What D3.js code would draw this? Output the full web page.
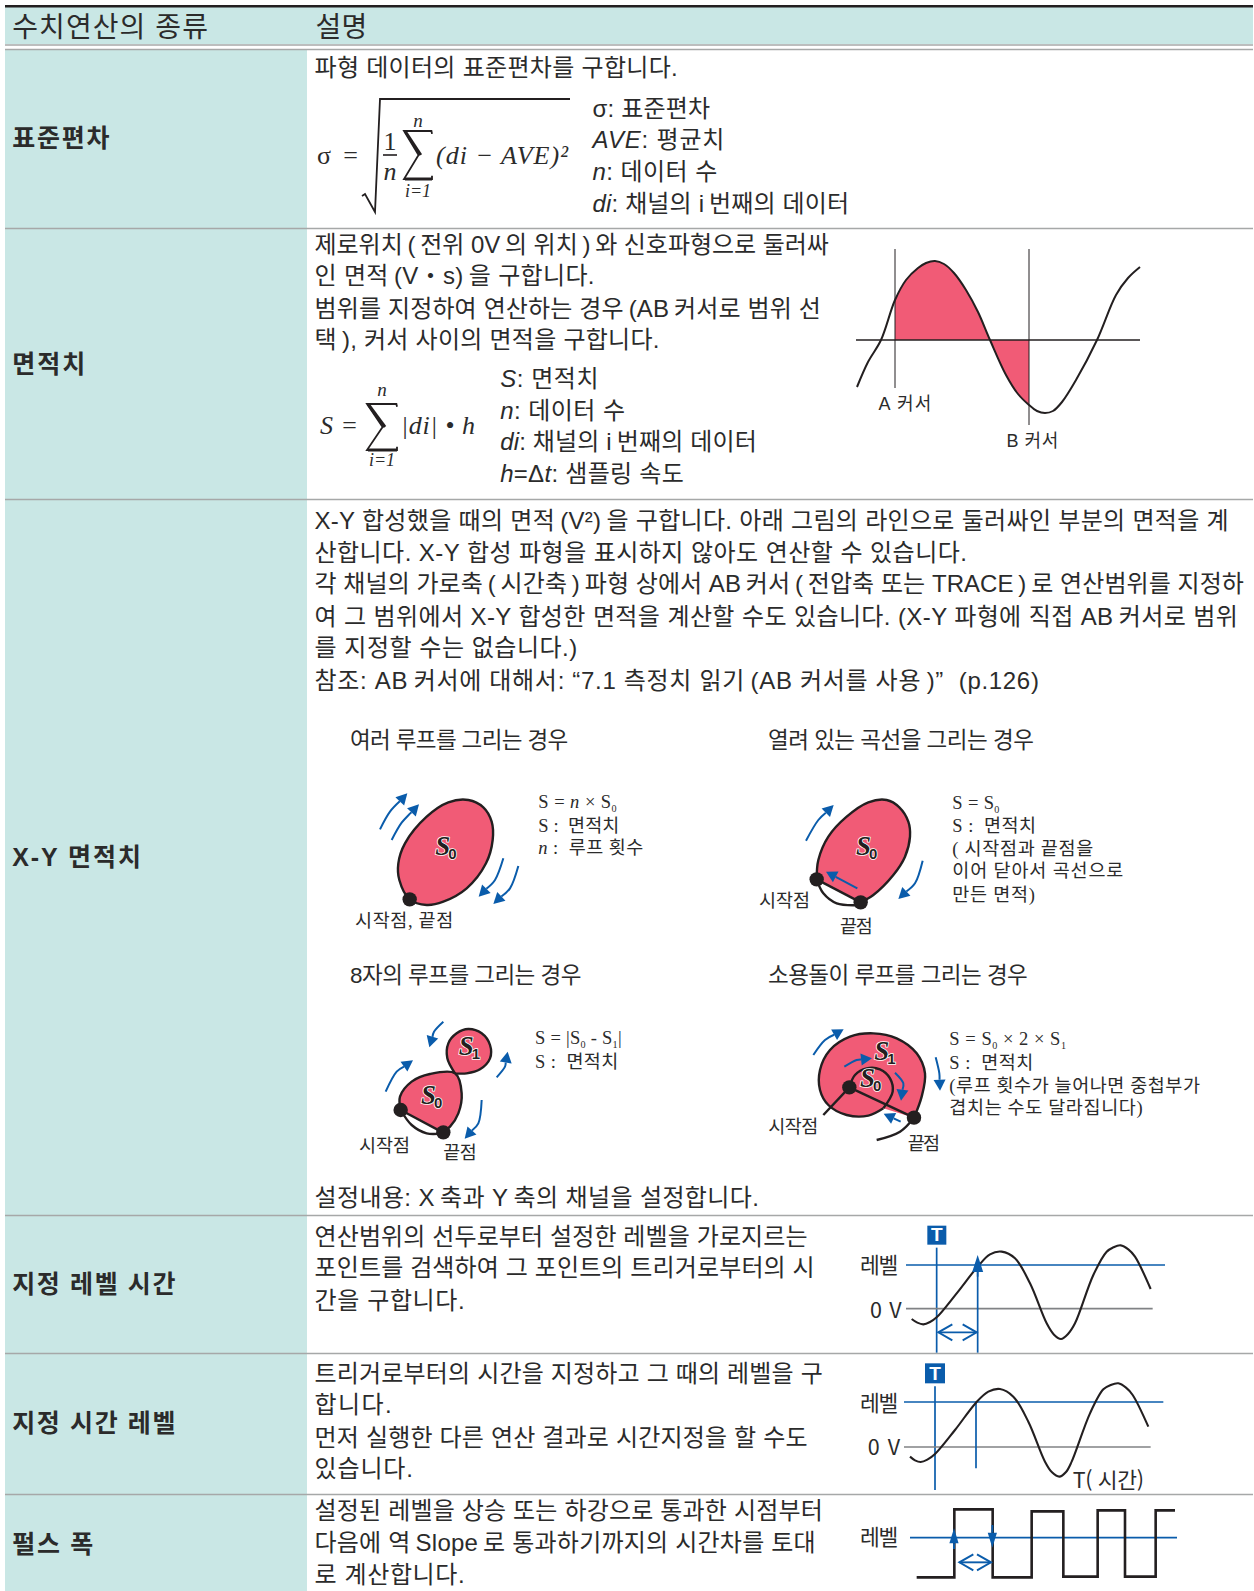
<!DOCTYPE html>
<html lang="ko">
<head>
<meta charset="utf-8">
<title>수치연산의 종류</title>
<script src="https://cdn.jsdelivr.net/npm/d3@7"></script>
<style>
  html, body { margin: 0; padding: 0; background: #fff; }
  svg { display: block; }
  text { fill: #2b2b2b; font-family: "Liberation Sans", "Noto Sans CJK KR", sans-serif; white-space: pre; }
</style>
</head>
<body>
<div id="chart"></div>
<script>
// Table text. *x* is italic, _x_ is a subscript
const headerLabels = ["수치연산의 종류", "설명"];
const rowLabels = ["표준편차", "면적치", "X-Y 면적치", "지정 레벨 시간", "지정 시간 레벨", "펄스 폭"];
const stdDevIntro = ["파형 데이터의 표준편차를 구합니다."];
const stdDevLegend = ["σ: 표준편차", "*AVE*: 평균치", "*n*: 데이터 수", "*di*: 채널의 i\u2009번째의 데이터"];
const areaLines = [
  "제로위치\u2009(\u2009전위 0V\u2009의 위치\u2009)\u2009와 신호파형으로 둘러싸",
  "인 면적\u2009(V・s)\u2009을 구합니다.",
  "범위를 지정하여 연산하는 경우\u2009(AB\u2009커서로 범위 선",
  "택\u2009), 커서 사이의 면적을 구합니다."
];
const areaLegend = ["*S*: 면적치", "*n*: 데이터 수", "*di*: 채널의 i\u2009번째의 데이터", "*h*=Δ*t*: 샘플링 속도"];
const xyLines = [
  "X-Y 합성했을 때의 면적\u2009(V²)\u2009을 구합니다. 아래 그림의 라인으로 둘러싸인 부분의 면적을 계",
  "산합니다. X-Y 합성 파형을 표시하지 않아도 연산할 수 있습니다.",
  "각 채널의 가로축\u2009(\u2009시간축\u2009)\u2009파형 상에서 AB\u2009커서\u2009(\u2009전압축 또는 TRACE\u2009)\u2009로 연산범위를 지정하",
  "여 그 범위에서 X-Y 합성한 면적을 계산할 수도 있습니다. (X-Y 파형에 직접 AB\u2009커서로 범위",
  "를 지정할 수는 없습니다.)",
  "참조: AB\u2009커서에 대해서: “7.1 측정치 읽기\u2009(AB 커서를 사용\u2009)”  (p.126)"
];
const xyCaseTitles = ["여러 루프를 그리는 경우", "열려 있는 곡선을 그리는 경우", "8자의 루프를 그리는 경우", "소용돌이 루프를 그리는 경우"];
const xyFooter = ["설정내용: X\u2009축과 Y\u2009축의 채널을 설정합니다."];
const levelTimeLines = ["연산범위의 선두로부터 설정한 레벨을 가로지르는", "포인트를 검색하여 그 포인트의 트리거로부터의 시", "간을 구합니다."];
const timeLevelLines = ["트리거로부터의 시간을 지정하고 그 때의 레벨을 구", "합니다.", "먼저 실행한 다른 연산 결과로 시간지정을 할 수도", "있습니다."];
const pulseLines = ["설정된 레벨을 상승 또는 하강으로 통과한 시점부터", "다음에 역\u2009Slope\u2009로 통과하기까지의 시간차를 토대", "로 계산합니다."];

// Area waveform: time, volts
const areaWave = [[1,-47],[12,-22],[25,0],[39,40],[50,60],[62,72],[70,77],[79,79],[88,76],[98,67],[110,50],[122,28],[134,0],[150,-35],[162,-54],[173,-65],[181,-71],[189,-73],[197,-71],[206,-62],[220,-40],[241,0],[260,45],[272,62],[284,73]];
const areaCursors = [39, 173];

// Trigger waveforms: readings on each diagram's own grid
const levelTimeWave = [[245,327],[262,338],[280,343],[300,336],[320,322],[380,250],[443,170],[480,133],[515,125],[555,145],[600,220],[650,340],[672,374],[693,387],[714,372],[735,340],[790,195],[830,125],[850,112],[872,106],[895,118],[915,140],[962,237]];
const timeLevelWave = [[240,320],[255,331],[272,336],[292,329],[315,312],[375,240],[438,158],[475,125],[510,117],[550,140],[595,215],[645,335],[666,367],[688,380],[708,366],[725,335],[780,190],[820,118],[842,105],[865,100],[888,113],[908,135],[955,230]];
const pulseWave = [[260,682],[373,682],[373,478],[488,478],[488,682],[605,682],[605,484],[700,484],[700,680],[803,680],[803,481],[885,481],[885,680],[977,680],[977,481],[1035,481]];

// X-Y loops
const singleLoop = [[209,538],[178,480],[175,430],[195,370],[260,290],[325,247],[385,240],[430,262],[455,305],[458,360],[438,430],[380,505],[310,545],[260,555]];
const singleArrows = [[[120,328],[150,275],[202,220]], [[155,360],[185,308],[237,253]], [[490,415],[465,480],[416,530]], [[535,438],[510,505],[460,552]]];
const singleDots = [[209,538]];

const openLoop = [[230,478],[235,420],[265,350],[320,290],[385,247],[440,240],[478,262],[505,305],[510,350],[495,410],[460,465],[400,525],[362,547],[230,478]];
const openReturn = [[230,478],[250,520],[290,550],[362,555]];
const openArrows = [[[198,362],[235,300],[281,255]], [[548,422],[525,490],[475,537]], [[352,505],[258,455]]];
const openDots = [[230,478],[362,547]];

const eightLower = [[182,480],[180,440],[215,395],[270,372],[345,370],[365,430],[355,490],[330,530],[308,547],[182,480]];
const eightUpper = [[345,370],[322,325],[325,280],[350,250],[385,237],[425,250],[450,285],[450,325],[420,358],[380,370],[345,370]];
const eightReturn = [[182,480],[215,525],[260,550],[308,550]];
const eightArrows = [[[310,215],[282,245],[268,292]], [[137,425],[170,365],[219,331]], [[470,382],[495,350],[503,305]], [[425,450],[415,520],[374,566]]];
const eightDots = [[182,480],[310,547]];

const spiralOuter = [[522,503],[545,440],[555,370],[530,310],[470,265],[400,250],[330,260],[270,300],[240,360],[240,420],[265,465],[320,495],[385,497],[430,475]];
const spiralInner = [[430,475],[458,425],[450,385],[420,358],[380,355],[345,375],[328,412]];
const spiralChords = [[[328,412],[522,503]], [[328,412],[250,495]]];
const spiralTail = [[522,503],[480,545],[410,570]];
const spiralArrows = [[[220,315],[255,270],[311,238]], [[313,350],[350,330],[396,325]], [[465,368],[490,400],[483,452]], [[587,322],[598,370],[600,422]], [[482,515],[431,491]]];
const spiralDots = [[328,412],[522,503]];

const colors = { band: "#c9e7e5", rule: "#a6a8a8", ink: "#231f20", blue: "#0a5cab", pink: "#f15b76", gray: "#808285" };

const width = 1254, height = 1591;
const k = width / 1236; // text layout below was read on the 1236 wide picture
const svg = d3.select("#chart").append("svg").attr("width", width).attr("height", height);

// ---- table frame ----
const rowEdges = [49, 228, 499, 1215, 1353, 1494, height];
const colX = [5, 307, 1253];

svg.append("rect").attr("x", colX[0]).attr("y", 7).attr("width", colX[2] - colX[0]).attr("height", 37).attr("fill", colors.band);
svg.append("rect").attr("x", colX[0]).attr("y", 49).attr("width", colX[1] - colX[0]).attr("height", height - 49).attr("fill", colors.band);
svg.selectAll(".row-rule")
  .data([44.5].concat(rowEdges.slice(0, -1)))
  .enter().append("line")
  .attr("class", "row-rule")
  .attr("x1", colX[0]).attr("x2", colX[2])
  .attr("y1", d => d + 0.5).attr("y2", d => d + 0.5)
  .attr("stroke", colors.rule).attr("stroke-width", 1.6);
svg.append("line").attr("x1", colX[0]).attr("x2", colX[2]).attr("y1", 6.2).attr("y2", 6.2).attr("stroke", colors.ink).attr("stroke-width", 2.6);

// ---- text ----
function addText(parent, str, x, cy, end, size, opts) {
  opts = opts || {};
  const t = parent.append("text")
    .attr("x", x * k)
    .attr("y", cy * k)
    .attr("dy", "0.38em")
    .attr("font-size", size)
    .attr("font-weight", opts.weight || 400);
  if (opts.family) t.style("font-family", opts.family);
  if (end) t.attr("textLength", (end - x) * k);
  str.split(/(\*[^*]+\*|_[^_]+_)/).filter(s => s).forEach(part => {
    const span = t.append("tspan");
    if (part[0] === "*") {
      span.text(part.slice(1, -1)).attr("font-style", "italic");
    } else if (part[0] === "_") {
      span.text(part.slice(1, -1)).attr("font-size", size * 0.55).attr("baseline-shift", "-4");
    } else {
      span.text(part);
    }
  });
  return t;
}

const textLayer = svg.append("g");
const bodySize = 24;
const textBlocks = [
  { lines: headerLabels, xs: [12, 311], ends: [205, 362], ys: [26, 26], size: 28 },
  { lines: rowLabels, xs: [12, 12, 12, 12, 12, 12], ends: [108, 84, 139, 173, 173, 92], ys: [136, 358, 844, 1265, 1402, 1521], size: 25, weight: 700 },
  { lines: stdDevIntro, xs: [310], ends: [668], ys: [66], size: bodySize },
  { lines: stdDevLegend, xs: [584, 584, 584, 584], ends: [700, 714, 707, 837], ys: [106, 137, 168, 200], size: bodySize },
  { lines: areaLines, xs: [310, 310, 310, 310], ends: [817, 586, 809, 650], ys: [240, 271, 303, 334], size: bodySize },
  { lines: areaLegend, xs: [493, 493, 493, 493], ends: [590, 616, 746, 674], ys: [372, 404, 435, 466], size: bodySize },
  { lines: xyLines, xs: [310, 310, 310, 310, 310, 310], ends: [1211, 953, 1226, 1220, 569, 1024], ys: [512, 544, 575, 607, 638, 670], size: bodySize },
  { lines: xyCaseTitles, xs: [345, 757, 345, 757], ends: [560, 1019, 573, 1013], ys: [729, 729, 960, 960], size: 22.5 },
  { lines: xyFooter, xs: [310], ends: [748], ys: [1180], size: bodySize },
  { lines: levelTimeLines, xs: [310, 310, 310], ends: [796, 803, 458], ys: [1218, 1249, 1281], size: bodySize },
  { lines: timeLevelLines, xs: [310, 310, 310, 310], ends: [811, 386, 796, 407], ys: [1353, 1384, 1416, 1447], size: bodySize },
  { lines: pulseLines, xs: [310, 310, 310], ends: [811, 804, 458], ys: [1488, 1520, 1551], size: bodySize }
];
textBlocks.forEach(b => b.lines.forEach((s, i) =>
  addText(textLayer, s, b.xs[i], b.ys[i], b.ends[i], b.size, { weight: b.weight })));

// ---- formulas ----
const mathFont = '"Liberation Serif", "DejaVu Serif", serif';
function mathText(str, x, y, size, anchor, len) {
  const t = svg.append("text")
    .attr("x", x).attr("y", y)
    .attr("font-size", size)
    .attr("font-style", "italic")
    .attr("text-anchor", anchor || "start")
    .style("font-family", mathFont)
    .text(str);
  if (len) t.attr("textLength", len);
  return t;
}
function sumSign(x, top, w, h) {
  // big sigma drawn from its box
  svg.append("path")
    .attr("d", d3.line()([[x + w, top + h * 0.06], [x + w * 0.98, top], [x, top], [x + w * 0.52, top + h * 0.5], [x, top + h], [x + w, top + h], [x + w, top + h * 0.93]]))
    .attr("fill", "none").attr("stroke", colors.ink).attr("stroke-width", 1.8);
  svg.append("line").attr("x1", x + 1).attr("x2", x + w * 0.6).attr("y1", top).attr("y2", top + h * 0.5).attr("stroke", colors.ink).attr("stroke-width", 3);
  svg.append("line").attr("x1", x + 1).attr("x2", x + w).attr("y1", top + h).attr("y2", top + h).attr("stroke", colors.ink).attr("stroke-width", 3);
}

mathText("σ =", 317, 164, 26, "start", 41).attr("font-style", "normal");
svg.append("path")
  .attr("d", d3.line()([[362, 196], [365, 194], [375, 212], [380, 99], [570, 99]]))
  .attr("fill", "none").attr("stroke", colors.ink).attr("stroke-width", 1.8);
mathText("1", 390, 150, 26, "middle").attr("font-style", "normal");
svg.append("line").attr("x1", 383).attr("x2", 397).attr("y1", 155).attr("y2", 155).attr("stroke", colors.ink).attr("stroke-width", 1.6);
mathText("n", 390, 180, 26, "middle");
sumSign(404, 131, 28, 48);
mathText("n", 418, 127, 19, "middle");
mathText("i=1", 418, 197, 18, "middle");
mathText("(di − AVE)²", 436, 164, 26, "start", 132);

mathText("S =", 320, 434, 26, "start", 38);
sumSign(367, 404, 30, 46);
mathText("n", 382, 396, 19, "middle");
mathText("i=1", 382, 466, 18, "middle");
mathText("|di| • h", 401, 434, 26, "start", 74);

// ---- area diagram ----
const areaX = d3.scaleLinear().domain([0, 284]).range([856, 1140]);
const areaY = d3.scaleLinear().domain([0, 79]).range([340, 261]);
const waveCurve = d3.curveCatmullRom.alpha(0.5);

svg.append("clipPath").attr("id", "cursor-span").append("rect")
  .attr("x", areaX(areaCursors[0])).attr("width", areaX(areaCursors[1]) - areaX(areaCursors[0]))
  .attr("y", 0).attr("height", height);
svg.append("path").datum(areaWave)
  .attr("clip-path", "url(#cursor-span)")
  .attr("fill", colors.pink)
  .attr("d", d3.area().x(d => areaX(d[0])).y0(areaY(0)).y1(d => areaY(d[1])).curve(waveCurve));
svg.append("line").attr("x1", areaX(0)).attr("x2", areaX(284)).attr("y1", areaY(0)).attr("y2", areaY(0)).attr("stroke", colors.ink).attr("stroke-width", 1.3);
svg.selectAll(".cursor")
  .data(areaCursors)
  .enter().append("line")
  .attr("class", "cursor")
  .attr("x1", d => areaX(d)).attr("x2", d => areaX(d))
  .attr("y1", 249).attr("y2", (d, i) => [388, 425][i])
  .attr("stroke", colors.ink).attr("stroke-width", 1);
svg.append("path").datum(areaWave)
  .attr("fill", "none").attr("stroke", colors.ink).attr("stroke-width", 2)
  .attr("d", d3.line().x(d => areaX(d[0])).y(d => areaY(d[1])).curve(waveCurve));
addText(svg, "A 커서", 866, 397, 918, 18);
addText(svg, "B 커서", 992, 434, 1043, 18);

// ---- shared pieces for the small diagrams ----
function makePanel(xRange, yRange, wide, tall) {
  const x = d3.scaleLinear().domain([0, wide]).range(xRange);
  const y = d3.scaleLinear().domain([0, tall]).range(yRange);
  const g = svg.append("g");
  return {
    x, y, g,
    line: d3.line().x(d => x(d[0])).y(d => y(d[1]))
  };
}
function drawArrows(p, arrows, headLen, headHalf, strokeW) {
  arrows.forEach(a => {
    const tip = a[a.length - 1];
    const prev = a[a.length - 2];
    const tx = p.x(tip[0]), ty = p.y(tip[1]);
    const dx = tx - p.x(prev[0]), dy = ty - p.y(prev[1]);
    const len = Math.hypot(dx, dy);
    const ux = dx / len, uy = dy / len;
    const bx = tx - ux * headLen, by = ty - uy * headLen;
    const shaft = a.slice(0, -1).map(d => [p.x(d[0]), p.y(d[1])]).concat([[bx, by]]);
    p.g.append("path")
      .attr("d", d3.line().curve(d3.curveCatmullRom)(shaft))
      .attr("fill", "none").attr("stroke", colors.blue).attr("stroke-width", strokeW || 2);
    p.g.append("path")
      .attr("d", d3.line()([[tx, ty], [bx - uy * headHalf, by + ux * headHalf], [bx + uy * headHalf, by - ux * headHalf]]) + "Z")
      .attr("fill", colors.blue);
  });
}
function drawDots(p, dots) {
  p.g.selectAll(".dot")
    .data(dots)
    .enter().append("circle")
    .attr("class", "dot")
    .attr("cx", d => p.x(d[0])).attr("cy", d => p.y(d[1]))
    .attr("r", 7.2).attr("fill", colors.ink);
}
function drawOutline(p, pts, curve, w) {
  p.g.append("path")
    .attr("d", p.line.curve(curve || d3.curveCatmullRom)(pts))
    .attr("fill", "none").attr("stroke", colors.ink).attr("stroke-width", w || 2.4);
}
function drawFill(p, segs) {
  // segs are curve pieces, joined into one closed shape
  const d = segs.map(s => p.line.curve(s.curve)(s.pts)).map((str, i) => i ? str.replace(/^M/, "L") : str).join("") + "Z";
  p.g.append("path").attr("d", d).attr("fill", colors.pink);
}
function loopLabel(p, name, sub, px, py) {
  const t = p.g.append("text")
    .attr("x", p.x(px)).attr("y", p.y(py))
    .attr("paint-order", "stroke")
    .attr("stroke", "#fff").attr("stroke-width", 1.6)
    .style("fill", colors.ink);
  t.append("tspan").text(name)
    .attr("font-size", 27).attr("font-weight", 700).attr("font-style", "italic")
    .style("font-family", mathFont);
  t.append("tspan").text(sub)
    .attr("font-size", 15).attr("font-weight", 700).attr("dy", 4).attr("dx", -2);
}
function panelText(p, str, px, py, size, end) {
  const t = addText(p.g, str, p.x(px) / k, p.y(py) / k, end ? p.x(end) / k : null, size || 18, { family: mathFont + ', "Noto Sans CJK KR"' });
  return t;
}

// ---- X-Y case 1: several loops ----
const case1 = makePanel([340, 780], [720, 950], 1320, 690);
case1.g.append("path").attr("d", case1.line.curve(d3.curveCatmullRomClosed.alpha(0.5))(singleLoop)).attr("fill", colors.pink).attr("stroke", colors.ink).attr("stroke-width", 2.4);
drawDots(case1, singleDots);
drawArrows(case1, singleArrows, 11, 6);
loopLabel(case1, "S", "0", 286, 404);
panelText(case1, "S = *n* × S_0_", 595, 242, 18.5, 830);
panelText(case1, "S :  면적치", 595, 314, 18.5, 838);
panelText(case1, "*n* :  루프 횟수", 595, 382, 18.5, 910);
panelText(case1, "시작점, 끝점", 45, 600, 18.5, 340);

// ---- X-Y case 2: open curve ----
const case2 = makePanel([740, 1180], [720, 950], 1320, 690);
drawFill(case2, [{ pts: openLoop.slice(0, -1), curve: d3.curveCatmullRom }]);
drawOutline(case2, openLoop.slice(0, -1));
drawOutline(case2, openLoop.slice(-2), d3.curveLinear);
drawOutline(case2, openReturn);
drawDots(case2, openDots);
drawArrows(case2, openArrows, 11, 6);
loopLabel(case2, "S", "0", 348, 404);
panelText(case2, "S = S_0_", 637, 245, 18.5, 778);
panelText(case2, "S :  면적치", 637, 314, 18.5, 888);
panelText(case2, "( 시작점과 끝점을", 637, 384, 18.5, 1060);
panelText(case2, "이어 닫아서 곡선으로", 637, 450, 18.5, 1150);
panelText(case2, "만든 면적)", 637, 522, 18.5, 885);
panelText(case2, "시작점", 57, 540, 18.5, 210);
panelText(case2, "끝점", 300, 618, 18.5, 398);

// ---- X-Y case 3: figure eight ----
const case3 = makePanel([340, 780], [950, 1170], 1320, 660);
drawFill(case3, [{ pts: eightLower.slice(0, -1), curve: d3.curveCatmullRom }]);
drawFill(case3, [{ pts: eightUpper, curve: d3.curveCatmullRom }]);
drawOutline(case3, eightLower.slice(0, -1));
drawOutline(case3, eightLower.slice(-2), d3.curveLinear);
drawOutline(case3, eightUpper);
drawOutline(case3, eightReturn);
drawDots(case3, eightDots);
drawArrows(case3, eightArrows, 11, 6);
loopLabel(case3, "S", "0", 243, 462);
loopLabel(case3, "S", "1", 356, 315);
panelText(case3, "S = |S_0_ - S_1_|", 585, 262, 18.5, 845);
panelText(case3, "S :  면적치", 585, 332, 18.5, 835);
panelText(case3, "시작점", 57, 585, 18.5, 210);
panelText(case3, "끝점", 310, 605, 18.5, 410);

// ---- X-Y case 4: spiral ----
const case4 = makePanel([740, 1220], [950, 1170], 1440, 660);
drawFill(case4, [{ pts: spiralOuter, curve: d3.curveCatmullRom }]);
drawOutline(case4, spiralOuter);
drawOutline(case4, spiralInner);
spiralChords.forEach(c => drawOutline(case4, c, d3.curveLinear));
drawOutline(case4, spiralTail);
drawDots(case4, spiralDots);
drawArrows(case4, spiralArrows, 11, 6);
loopLabel(case4, "S", "0", 360, 412);
loopLabel(case4, "S", "1", 403, 330);
panelText(case4, "S = S_0_ × 2 × S_1_", 628, 265, 18.5, 978);
panelText(case4, "S :  면적치", 628, 336, 18.5, 880);
panelText(case4, "(루프 횟수가 늘어나면 중첩부가", 628, 404, 18.5, 1380);
panelText(case4, "겹치는 수도 달라집니다)", 628, 470, 18.5, 1208);
panelText(case4, "시작점", 85, 528, 18.5, 235);
panelText(case4, "끝점", 503, 580, 18.5, 600);

// ---- trigger diagrams ----
function triggerBox(p, left, top, size, lineX, lineBottom) {
  p.g.append("rect").attr("x", p.x(left)).attr("y", p.y(top)).attr("width", p.x(left + size) - p.x(left)).attr("height", p.y(top + size) - p.y(top)).attr("fill", colors.blue);
  p.g.append("text")
    .attr("x", p.x(left + size / 2)).attr("y", p.y(top + size - 10))
    .attr("text-anchor", "middle").attr("font-size", 19).attr("font-weight", 700)
    .style("fill", "#fff").text("T");
  p.g.append("line").attr("x1", p.x(lineX)).attr("x2", p.x(lineX)).attr("y1", p.y(top + size + 9)).attr("y2", p.y(lineBottom)).attr("stroke", colors.blue).attr("stroke-width", 1.7);
}
function hLine(p, x1, x2, yv, color, w) {
  p.g.append("line").attr("x1", p.x(x1)).attr("x2", p.x(x2)).attr("y1", p.y(yv)).attr("y2", p.y(yv)).attr("stroke", color).attr("stroke-width", w || 1.7);
}
function vLine(p, xv, y1, y2) {
  p.g.append("line").attr("x1", p.x(xv)).attr("x2", p.x(xv)).attr("y1", p.y(y1)).attr("y2", p.y(y2)).attr("stroke", colors.blue).attr("stroke-width", 1.7);
}
function doubleArrow(p, x1, x2, yv) {
  hLine(p, x1, x2, yv, colors.blue, 1.9);
  [[x1, 1], [x2, -1]].forEach(e => {
    p.g.append("path")
      .attr("d", p.line.curve(d3.curveLinear)([[e[0] + e[1] * 42, yv - 24], [e[0], yv], [e[0] + e[1] * 42, yv + 24]]))
      .attr("fill", "none").attr("stroke", colors.blue).attr("stroke-width", 1.9);
  });
}
function sideLabel(p, str, x1, x2, cy) {
  addText(p.g, str, p.x(x1) / k, p.y(cy) / k, p.x(x2) / k, 21.5).style("font-family", '"Noto Sans CJK KR", sans-serif');
}

const levelTime = makePanel([830, 1170], [1210, 1360], 1020, 450);
triggerBox(levelTime, 292, 47, 57, 320, 428);
hLine(levelTime, 228, 1005, 165, colors.blue);
hLine(levelTime, 228, 968, 296, colors.gray);
vLine(levelTime, 443, 170, 428);
drawOutline(levelTime, levelTimeWave, waveCurve, 2.1);
drawArrows(levelTime, [[[443, 200], [443, 135]]], 17, 5.5, 1.7);
doubleArrow(levelTime, 325, 440, 367);
sideLabel(levelTime, "레벨", 90, 205, 165);
sideLabel(levelTime, "0 V", 120, 215, 298);

const timeLevel = makePanel([830, 1170], [1350, 1591], 1020, 723);
triggerBox(timeLevel, 285, 40, 60, 315, 420);
hLine(timeLevel, 222, 1000, 156, colors.blue);
hLine(timeLevel, 222, 962, 291, colors.gray);
vLine(timeLevel, 438, 155, 355);
drawOutline(timeLevel, timeLevelWave, waveCurve, 2.1);
sideLabel(timeLevel, "레벨", 90, 205, 158);
sideLabel(timeLevel, "0 V", 113, 210, 290);
sideLabel(timeLevel, "T( 시간)", 728, 942, 388);

hLine(timeLevel, 240, 1041, 563, colors.blue);
drawOutline(timeLevel, pulseWave, d3.curveLinear, 2.6);
drawArrows(timeLevel, [[[372, 597], [372, 535]], [[487, 525], [487, 593]]], 15, 4.6, 1.9);
doubleArrow(timeLevel, 388, 483, 637);
sideLabel(timeLevel, "레벨", 90, 205, 560);
</script>
</body>
</html>
